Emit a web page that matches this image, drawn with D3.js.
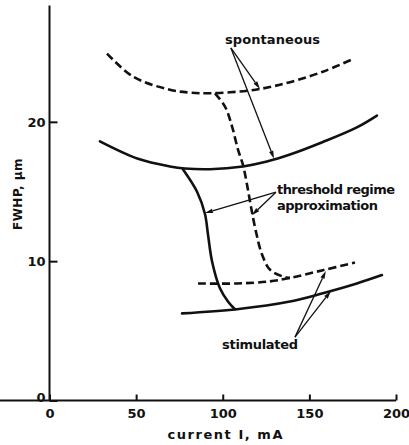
<!DOCTYPE html>
<html>
<head>
<meta charset="utf-8">
<script src="https://cdn.jsdelivr.net/npm/d3@7"></script>
<style>
  html, body { margin: 0; padding: 0; background: #fff; }
  svg { display: block; }
  text { font-family: "DejaVu Sans", "Liberation Sans", sans-serif; font-weight: bold; fill: #111; }
</style>
</head>
<body>
<svg id="chart" width="409" height="445"></svg>
<script>
// Spot-size (FWHP) versus drive current for a stripe laser.
const xTicks = [0, 50, 100, 150, 200];
const yTicks = [0, 10, 20];

// Spontaneous emission, exact solution (solid, upper branch)
const spontaneousExact = [
  [29.1, 18.6], [51.1, 17.35], [69.5, 16.8], [78.2, 16.65], [92.6, 16.6],
  [111.7, 16.8], [125.5, 17.15], [138.8, 17.65], [157.8, 18.55], [177.4, 19.6], [189.0, 20.45]
];
// Spontaneous emission, threshold regime approximation (dashed, upper branch)
const spontaneousApprox = [
  [33.2, 24.9], [48.2, 23.25], [69.5, 22.3], [81.1, 22.1], [92.6, 22.05],
  [115.7, 22.25], [127.2, 22.5], [138.8, 22.85], [157.8, 23.6], [175.1, 24.5]
];
// Stimulated emission, exact solution (solid, lower branch)
const stimulatedExact = [
  [76.5, 6.25], [108.2, 6.55], [138.8, 7.1], [157.8, 7.7], [177.4, 8.4], [191.9, 9.0]
];
// Stimulated emission, threshold regime approximation (dashed, lower branch)
const stimulatedApprox = [
  [85.7, 8.4], [108.2, 8.4], [127.2, 8.55], [138.8, 8.8], [157.8, 9.35], [176.3, 9.9]
];
// Transition through threshold, exact (solid)
const thresholdExact = [
  [77.0, 16.6], [85.1, 15.0], [89.7, 13.4], [91.5, 11.9], [93.8, 10.0],
  [98.4, 8.05], [103.0, 7.1], [107.0, 6.55]
];
// Transition through threshold, approximation (dashed)
const thresholdApprox = [
  [95.5, 22.05], [101.3, 21.1], [105.3, 19.7], [108.8, 18.0], [111.7, 16.9],
  [114.0, 15.5], [116.3, 13.9], [119.2, 12.1], [122.6, 10.5], [127.2, 9.4], [134.7, 8.9], [138.8, 8.8]
];

// Callout labels: text lines with their widths, anchor point, arrow origin, arrow tips (data units)
const callouts = [
  { lines: ["spontaneous"], widths: [95], at: [101.3, 25.6], from: [104.7, 25.3],
    tips: [[121.5, 22.35], [129.6, 17.35]] },
  { lines: ["threshold regime", "approximation"], widths: [118, 101], at: [131.3, 14.8], from: [130.7, 14.95],
    tips: [[89.7, 13.45], [116.8, 13.3]] },
  { lines: ["stimulated"], widths: [76], at: [99.6, 3.7], from: [141.7, 4.55],
    tips: [[159.5, 9.3], [162.4, 7.85]] }
];

const FS = 13;
const svg = d3.select("#chart");
const x = d3.scaleLinear().domain([0, 200]).range([49.5, 396]);
const y = d3.scaleLinear().domain([0, 28.35]).range([400.5, 5.5]);

const line = d3.line().x(d => x(d[0])).y(d => y(d[1])).curve(d3.curveCatmullRom.alpha(0.5));

// Axes: ticks point inward
const gx = svg.append("g").attr("transform", `translate(0,${y(0)})`)
  .call(d3.axisBottom(x).tickValues(xTicks).tickSize(-6).tickPadding(8).tickFormat(d3.format("d")));
const gy = svg.append("g").attr("transform", `translate(${x(0)},0)`)
  .call(d3.axisLeft(y).tickValues(yTicks).tickSize(-8).tickPadding(4).tickFormat(d3.format("d")));
gy.select(".domain").attr("d", `M0,${y(0)}V${y(28.35)}`);
gx.select(".domain").attr("d", `M0,0H${x(200)}`);
[gx, gy].forEach(g => {
  g.select(".domain").attr("stroke", "#111").attr("stroke-width", 2);
  g.selectAll(".tick line").attr("stroke", "#111").attr("stroke-width", 2);
  g.selectAll(".tick text").attr("font-size", FS).attr("font-family", "DejaVu Sans").attr("font-weight", "bold").attr("fill", "#111");
});
// the zero label sits just above the corner
gy.selectAll(".tick text").filter(d => d === 0).attr("dy", "0.05em");

svg.append("text").attr("x", 225).attr("y", 439).attr("text-anchor", "middle")
  .attr("font-size", FS).attr("textLength", 115).attr("lengthAdjust", "spacing").text("current I, mA");
svg.append("text").attr("transform", "translate(22,194) rotate(-90)").attr("text-anchor", "middle")
  .attr("font-size", 12).attr("letter-spacing", 0.5).text("FWHP, μm");

// Curves
const solid = [spontaneousExact, stimulatedExact, thresholdExact];
const dashed = [spontaneousApprox, stimulatedApprox, thresholdApprox];
svg.append("g").selectAll("path").data(solid).join("path")
  .attr("d", line).attr("fill", "none").attr("stroke", "#111").attr("stroke-width", 2.6)
  .attr("stroke-linecap", "round");
svg.append("g").selectAll("path").data(dashed).join("path")
  .attr("d", line).attr("fill", "none").attr("stroke", "#111").attr("stroke-width", 2.6)
  .attr("stroke-dasharray", "8,4");

// Callouts with arrows
const ann = svg.append("g");
callouts.forEach(c => {
  const t = ann.append("text").attr("x", x(c.at[0])).attr("y", y(c.at[1])).attr("font-size", FS);
  c.lines.forEach((s, i) => t.append("tspan").attr("x", x(c.at[0])).attr("dy", i ? 16 : 0)
    .attr("textLength", c.widths[i]).attr("lengthAdjust", "spacing").text(s));
  c.tips.forEach(tp => {
    const x0 = x(c.from[0]), y0 = y(c.from[1]), x1 = x(tp[0]), y1 = y(tp[1]);
    const ang = Math.atan2(y1 - y0, x1 - x0);
    const L = 8, W = 2.2;
    const bx = x1 - L * Math.cos(ang), by = y1 - L * Math.sin(ang);
    ann.append("line").attr("x1", x0).attr("y1", y0).attr("x2", bx).attr("y2", by)
      .attr("stroke", "#111").attr("stroke-width", 1.3);
    ann.append("path").attr("fill", "#111")
      .attr("d", `M${x1},${y1}L${bx - W * Math.sin(ang)},${by + W * Math.cos(ang)}L${bx + W * Math.sin(ang)},${by - W * Math.cos(ang)}Z`);
  });
});
</script>
</body>
</html>
